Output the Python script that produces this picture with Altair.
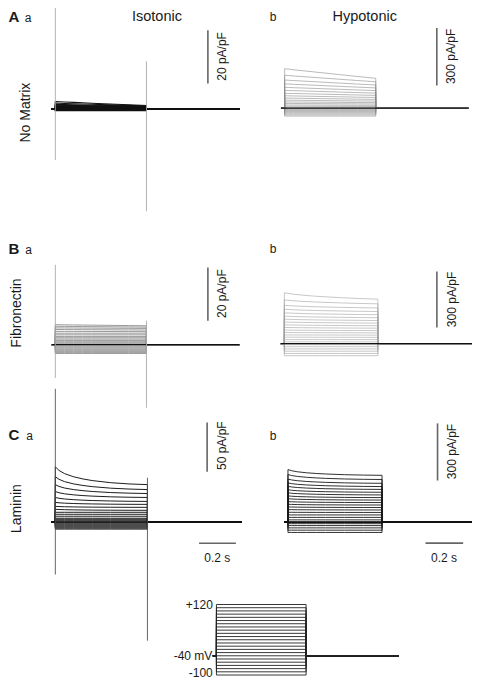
import altair as alt
import pandas as pd

# ---------------- data ----------------
# sweep time base, s
t_pre, t_on, t_off, t_end = -0.02, 0.0, 0.5, 1.01
# shape of the time-dependent (inactivating) part, fraction remaining
decay_t = [0.0, 0.02, 0.05, 0.1, 0.15, 0.2, 0.3, 0.4, 0.5]
decay_fast = [1.0, 0.80, 0.62, 0.44, 0.32, 0.23, 0.11, 0.04, 0.0]
decay_mid = [1.0, 0.90, 0.78, 0.62, 0.50, 0.40, 0.24, 0.10, 0.0]
decay_slow = [1.0, 0.96, 0.89, 0.79, 0.69, 0.59, 0.39, 0.19, 0.0]

# currents, pA/pF: at pulse onset and at end of pulse, 23 sweeps
Aa_start = [-0.6, -0.5, -0.45, -0.4, -0.3, -0.25, -0.15, -0.05, 0.0, 0.1, 0.15, 0.25,
            0.35, 0.45, 0.6, 0.7, 0.85, 1.0, 1.2, 1.4, 1.7, 2.2, 2.8]
Aa_end = [-0.6, -0.5, -0.45, -0.4, -0.3, -0.25, -0.15, -0.05, 0.0, 0.1, 0.15, 0.25,
          0.3, 0.4, 0.5, 0.55, 0.65, 0.75, 0.85, 0.95, 1.05, 1.15, 1.3]
Ab_start = [-41, -35, -29, -23, -17, -12, -7, -2, 3, 10, 17, 25, 33, 42, 53, 65, 78, 93,
            109, 127, 147, 172, 206]
Ab_end = [-41, -35, -29, -23, -17, -12, -7, -2, 3, 9, 15, 22, 29, 37, 46, 56, 67, 79, 92,
          106, 121, 138, 156]
Ba_start = [-3.3, -2.9, -2.5, -2.1, -1.7, -1.3, -0.9, -0.5, -0.1, 0.3, 0.7, 1.1, 1.6, 2.1,
            2.6, 3.1, 3.7, 4.3, 5.0, 5.7, 6.3, 6.9, 7.5]
Ba_end = [-3.3, -2.9, -2.5, -2.1, -1.7, -1.3, -0.9, -0.5, -0.1, 0.3, 0.7, 1.1, 1.6, 2.1,
          2.6, 3.1, 3.7, 4.3, 4.9, 5.5, 6.1, 6.6, 7.1]
Bb_start = [-64, -52, -40, -28, -16, -5, 0, 10, 22, 35, 47, 60, 73, 87, 101, 116, 131, 147,
            165, 184, 205, 234, 272]
Bb_end = [-64, -52, -40, -28, -16, -5, 0, 10, 22, 34, 46, 58, 70, 83, 96, 110, 124, 139,
          155, 172, 191, 213, 238]
Ca_start = [-7, -6, -5, -4, -3, -2, -1, 0, 1, 2, 3, 4, 6, 8, 10, 13, 16, 20, 25, 31, 38, 46, 56]
Ca_end = [-7, -6, -5, -4, -3, -2, -1, 0, 1, 2, 3, 4, 6, 8, 10, 12, 15, 18, 21, 25, 29, 33, 38]
Cb_start = [-54, -42, -30, -18, -8, 0, 12, 25, 38, 52, 66, 80, 94, 108, 123, 138, 154, 170,
            188, 206, 226, 250, 276]
Cb_end = [-54, -42, -30, -18, -8, 0, 12, 25, 38, 51, 64, 77, 90, 103, 116, 129, 143, 157,
          172, 187, 204, 224, 246]

# capacitive transients: [t, top, bottom] in pA/pF
Aa_trans = [[0.0, 38, -19.2], [0.5, 17.9, -38.4]]
Ba_trans = [[0.0, 30, -12.5], [0.5, 9, -23.7]]
Ca_trans = [[0.0, 135, -53], [0.5, 45, -120]]

# voltage protocol, mV
hold_mV = -40
step_mV = [-100, -90, -80, -70, -60, -50, -40, -30, -20, -10, 0, 10, 20, 30, 40, 50,
           60, 70, 80, 90, 100, 110, 120]

# ---------------- layout ----------------
W, H = 464, 672
SX, SY = W / 473.5, H / 694.0
FONT = "Liberation Sans"


def domains(x0, pxs, y0, ky):
    ax, bx = x0 * SX, pxs * SX
    cy, kv = y0 * SY, ky * SY
    return [-ax / bx, (W - ax) / bx], [(cy - H) / kv, cy / kv]


def sweeps(start, end, decay, base=0.0):
    rows = []
    for i, (s, e) in enumerate(zip(start, end)):
        pts = [(t_pre, base), (t_on, base)]
        pts += [(tt, e + (s - e) * f) for tt, f in zip(decay_t, decay)]
        pts += [(t_off, base), (t_end, base)]
        for j, (tt, v) in enumerate(pts):
            rows.append(dict(sweep=i, seq=j, t=tt, I=v))
    return pd.DataFrame(rows)


def panel(df, geo, color, sw, base_color="#111", base_w=1.2, base=0.0,
          trans=None, trans_color="#aaa", bar=None, tbar=None):
    xd, yd = domains(*geo)
    xs = alt.Scale(domain=xd, nice=False, zero=False)
    ys = alt.Scale(domain=yd, nice=False, zero=False)
    layers = [
        alt.Chart(df).mark_line(color=color, strokeWidth=sw).encode(
            x=alt.X("t:Q", scale=xs, axis=None),
            y=alt.Y("I:Q", scale=ys, axis=None),
            detail="sweep:N", order="seq:Q"),
        alt.Chart(pd.DataFrame({"t": [t_pre, t_end], "I": [base, base]}))
        .mark_line(color=base_color, strokeWidth=base_w).encode(
            x=alt.X("t:Q", scale=xs, axis=None), y=alt.Y("I:Q", scale=ys, axis=None)),
    ]
    if trans:
        tdf_ = pd.DataFrame(trans, columns=["t", "top", "bot"])
        layers.append(alt.Chart(tdf_).mark_rule(color=trans_color, strokeWidth=0.9).encode(
            x=alt.X("t:Q", scale=xs, axis=None),
            y=alt.Y("top:Q", scale=ys, axis=None), y2="bot:Q"))
    if bar:
        bdf = pd.DataFrame([bar], columns=["t", "lo", "hi"])
        layers.append(alt.Chart(bdf).mark_rule(color="#666", strokeWidth=1.6).encode(
            x=alt.X("t:Q", scale=xs, axis=None),
            y=alt.Y("lo:Q", scale=ys, axis=None), y2="hi:Q"))
    if tbar:
        tb = pd.DataFrame([tbar], columns=["t1", "t2", "I"])
        layers.append(alt.Chart(tb).mark_rule(color="#666", strokeWidth=1.6).encode(
            x=alt.X("t1:Q", scale=xs, axis=None), x2="t2:Q",
            y=alt.Y("I:Q", scale=ys, axis=None)))
    return alt.layer(*layers)


# geometry in reference pixels: x at t=0, px per s, y at zero, px per unit
pAa = panel(sweeps(Aa_start, Aa_end, decay_slow), (48.3, 186, 104.3, 2.75), "#111", 1.1,
            trans=Aa_trans, bar=[0.837, 9.6, 29.6])
pAb = panel(sweeps(Ab_start, Ab_end, decay_slow), (282.3, 186, 103.5, 0.198), "#8c8c8c", 0.6,
            bar=[0.835, 118.7, 418.7])
pBa = panel(sweeps(Ba_start, Ba_end, decay_slow), (48.3, 186, 347.7, 2.75), "#808080", 0.8,
            trans=Ba_trans, bar=[0.837, 9.0, 29.0])
pBb = panel(sweeps(Bb_start, Bb_end, decay_mid), (282.0, 191, 346.7, 0.1933), "#a3a3a3", 0.6,
            bar=[0.815, 86.4, 386.4])
pCa = panel(sweeps(Ca_start, Ca_end, decay_fast), (48.3, 188, 531, 1.02), "#111", 0.95,
            trans=Ca_trans, trans_color="#555", bar=[0.824, 51, 101], tbar=[0.78, 0.98, -21.3])
pCb = panel(sweeps(Cb_start, Cb_end, decay_fast), (285.7, 192, 531, 0.1967), "#1a1a1a", 0.9,
            base_w=1.8, bar=[0.795, 218.6, 518.6], tbar=[0.731, 0.931, -110])

# voltage protocol
prot_rows = []
for i, v in enumerate(step_mV):
    pts = [(t_pre, hold_mV), (t_on, hold_mV), (t_on, v), (t_off, v), (t_off, hold_mV),
           (1.018, hold_mV)]
    for j, (tt, vv) in enumerate(pts):
        prot_rows.append(dict(sweep=i, seq=j, t=tt, V=vv))
prot_df = pd.DataFrame(prot_rows)
xd, yd = domains(212.7, 183, 669 - 40 * 0.331, 0.331)
pProt = alt.Chart(prot_df).mark_line(color="#222", strokeWidth=0.9).encode(
    x=alt.X("t:Q", scale=alt.Scale(domain=xd, nice=False, zero=False), axis=None),
    y=alt.Y("V:Q", scale=alt.Scale(domain=yd, nice=False, zero=False), axis=None),
    detail="sweep:N", order="seq:Q")

# ---------------- text ----------------
def tdf(items):
    return pd.DataFrame([dict(txt=a, px=x * SX, py=y * SY) for a, x, y in items])


def text_layer(items, **kw):
    base = dict(font=FONT, color="#1a1a1a", baseline="middle")
    base.update(kw)
    return alt.Chart(tdf(items)).mark_text(**base).encode(
        x=alt.X("px:Q", scale=None), y=alt.Y("py:Q", scale=None), text="txt:N")


letters = text_layer([("A", 0.5, 9), ("B", 0.5, 249), ("C", 0.5, 441)],
                     align="left", fontSize=15, fontWeight="bold")
subletters = text_layer([("a", 17, 10), ("b", 267, 9.5), ("a", 17.5, 250), ("b", 267, 249),
                         ("a", 18.5, 442), ("b", 267, 442)], align="left", fontSize=12)
titles = text_layer([("Isotonic", 152, 9.5), ("Hypotonic", 364, 9.5)],
                    align="center", fontSize=14.5)
rowlabels = text_layer([("No Matrix", 18, 108), ("Fibronectin", 9.5, 315), ("Laminin", 9.5, 517)],
                       align="center", fontSize=14, angle=270)
barlabels = text_layer([("20 pA/pF", 218, 50), ("300 pA/pF", 452, 50),
                        ("20 pA/pF", 218, 295), ("300 pA/pF", 453, 301),
                        ("50 pA/pF", 218, 452), ("300 pA/pF", 453, 458)],
                       align="center", fontSize=12, angle=270)
timelabels = text_layer([("0.2 s", 213.5, 568), ("0.2 s", 445, 568)],
                        align="center", fontSize=12)
protlabels = text_layer([("+120", 209, 616.5), ("-40 mV", 208.5, 669), ("-100", 209, 687)],
                        align="right", fontSize=12)

chart = alt.layer(
    pAa, pAb, pBa, pBb, pCa, pCb, pProt,
    letters, subletters, titles, rowlabels, barlabels, timelabels, protlabels,
).resolve_scale(x="independent", y="independent").properties(
    width=W, height=H, padding=0, autosize=alt.AutoSizeParams(type="none"),
    background="white",
).configure_view(stroke=None)

chart.save("out.html", embed_options={"renderer": "svg", "actions": False})
